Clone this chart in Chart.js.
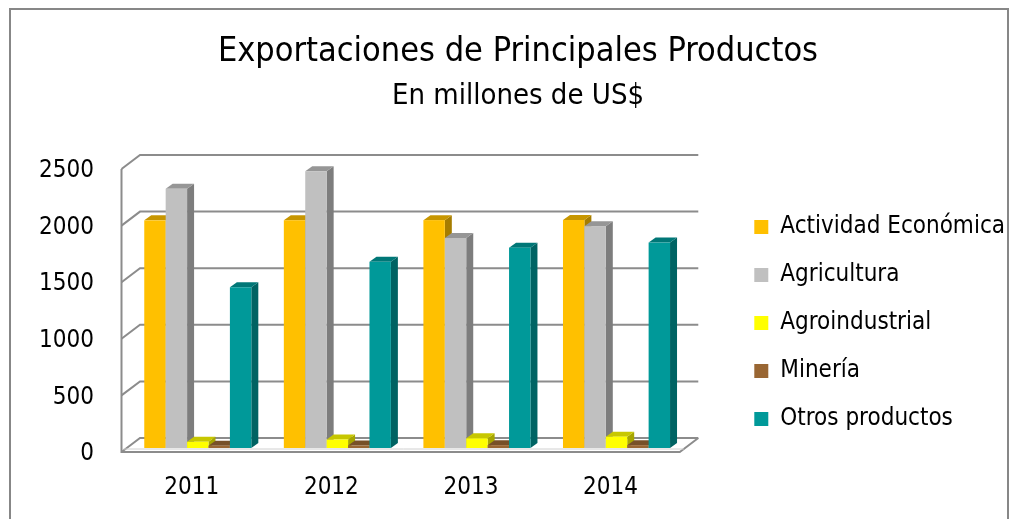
<!DOCTYPE html>
<html>
<head>
<meta charset="utf-8">
<script src="https://cdn.jsdelivr.net/npm/chart.js@4/dist/chart.umd.min.js"></script>
<style>
  html, body { margin: 0; padding: 0; background: #fff; }
  #wrap { width: 1015px; height: 519px; }
</style>
</head>
<body>
<div id="wrap"><canvas id="grafico"></canvas></div>
<script>
const categorias = ['2011', '2012', '2013', '2014'];
const actividadEconomica = [2011, 2012, 2013, 2014];
const agricultura = [2290, 2445, 1855, 1960];
const agroindustrial = [55, 75, 86, 100];
const mineria = [20, 22, 25, 25];
const otrosProductos = [1420, 1645, 1770, 1815];
const ticksY = [0, 500, 1000, 1500, 2000, 2500];

const fuente = "'DejaVu Sans Condensed', 'DejaVu Sans', sans-serif";

// desplazamientos de la perspectiva 3D (plano de barras -> pared trasera / borde frontal)
const fondo = { dx: 12, dy: -10 };
const frente = { dx: -6.5, dy: 4 };
const prof = { dx: 7, dy: -5 };

function oscurecer(hex, f) {
    const n = parseInt(hex.slice(1), 16);
    const r = Math.round(((n >> 16) & 255) * f);
    const g = Math.round(((n >> 8) & 255) * f);
    const b = Math.round((n & 255) * f);
    return `rgb(${r},${g},${b})`;
}

const marco = {
    id: 'marco',
    beforeDraw(chart) {
        const ctx = chart.ctx;
        ctx.save();
        ctx.strokeStyle = '#878787';
        ctx.lineWidth = 2;
        ctx.strokeRect(10, 9, 998, 540);
        ctx.restore();
    }
};

// la leyenda necesita más ancho que el límite que pone Chart.js a las cajas laterales
const leyendaAncha = {
    id: 'leyendaAncha',
    beforeLayout(chart) {
        const lg = chart.legend;
        if (lg && !lg._ancha) {
            const upd = lg.update.bind(lg);
            lg.update = (mw, mh, m) => upd(Math.max(mw, 400), mh, m);
            lg._ancha = true;
        }
    }
};

const barras3d = {
    id: 'barras3d',
    beforeDatasetsDraw(chart) {
        const ctx = chart.ctx;
        const a = chart.chartArea;
        const y = chart.scales.y;
        ctx.save();
        ctx.strokeStyle = '#8c8c8c';
        ctx.lineWidth = 2;

        // pared del fondo y pared izquierda
        ticksY.forEach(v => {
            const py = y.getPixelForValue(v);
            ctx.beginPath();
            ctx.moveTo(a.left + frente.dx, py + frente.dy);
            ctx.lineTo(a.left + fondo.dx, py + fondo.dy);
            ctx.lineTo(a.right + fondo.dx, py + fondo.dy);
            ctx.stroke();
        });
        const y0 = y.getPixelForValue(0);
        const yMax = y.getPixelForValue(2500);
        ctx.beginPath();
        ctx.moveTo(a.left + frente.dx, yMax + frente.dy);
        ctx.lineTo(a.left + frente.dx, y0 + frente.dy);
        ctx.lineTo(a.right + frente.dx, y0 + frente.dy);
        ctx.lineTo(a.right + fondo.dx, y0 + fondo.dy);
        ctx.stroke();
        ctx.strokeStyle = '#d0d0d0';
        ctx.lineWidth = 1;
        ctx.beginPath();
        ctx.moveTo(a.left + frente.dx + 2, y0 + 1);
        ctx.lineTo(a.right + frente.dx + 4, y0 + 1);
        ctx.stroke();

        // barras con cara superior y lateral
        chart.data.datasets.forEach((ds, i) => {
            const meta = chart.getDatasetMeta(i);
            meta.data.forEach(bar => {
                const { x, y: top, base, width } = bar.getProps(['x', 'y', 'base', 'width'], true);
                const l = x - width / 2, r = x + width / 2;
                ctx.fillStyle = oscurecer(ds.backgroundColor, 0.65);
                ctx.beginPath();
                ctx.moveTo(r, top);
                ctx.lineTo(r + prof.dx, top + prof.dy);
                ctx.lineTo(r + prof.dx, base + prof.dy);
                ctx.lineTo(r, base);
                ctx.closePath();
                ctx.fill();
                ctx.fillStyle = oscurecer(ds.backgroundColor, 0.78);
                ctx.beginPath();
                ctx.moveTo(l, top);
                ctx.lineTo(l + prof.dx, top + prof.dy);
                ctx.lineTo(r + prof.dx, top + prof.dy);
                ctx.lineTo(r, top);
                ctx.closePath();
                ctx.fill();
                ctx.fillStyle = ds.backgroundColor;
                ctx.fillRect(l, top, width, base - top);
            });
        });
        ctx.restore();
        return false;
    }
};

new Chart(document.getElementById('grafico'), {
    type: 'bar',
    data: {
        labels: categorias,
        datasets: [
            { label: 'Actividad Económica', data: actividadEconomica, backgroundColor: '#FFC000' },
            { label: 'Agricultura', data: agricultura, backgroundColor: '#C0C0C0' },
            { label: 'Agroindustrial', data: agroindustrial, backgroundColor: '#FFFF00' },
            { label: 'Minería', data: mineria, backgroundColor: '#996633' },
            { label: 'Otros productos', data: otrosProductos, backgroundColor: '#009999' }
        ]
    },
    options: {
        responsive: true,
        maintainAspectRatio: false,
        animation: false,
        categoryPercentage: 0.767,
        barPercentage: 1,
        layout: { padding: { left: 21, right: 0, top: 0, bottom: 0 } },
        plugins: {
            title: {
                display: true,
                text: 'Exportaciones de Principales Productos',
                color: '#000',
                font: { family: fuente, size: 34, weight: 'normal' },
                padding: { top: 32, bottom: 0 }
            },
            subtitle: {
                display: true,
                text: 'En millones de US$',
                color: '#000',
                font: { family: fuente, size: 29, weight: 'normal' },
                padding: { top: 5.8, bottom: 51.6 }
            },
            legend: {
                position: 'right',
                align: 'start',
                title: { display: true, text: ' ', font: { size: 10 }, padding: { top: 179, bottom: 0 } },
                labels: {
                    color: '#000',
                    boxWidth: 14,
                    boxHeight: 14,
                    padding: 24,
                    font: { family: fuente, size: 24 }
                }
            },
            tooltip: { enabled: false }
        },
        scales: {
            x: {
                grid: { display: false, drawTicks: false },
                border: { display: false },
                ticks: { color: '#000', padding: 25.6, labelOffset: -6, font: { family: fuente, size: 24 } },
                afterFit(s) { s.height = 71; }
            },
            y: {
                min: 0,
                max: 2500,
                grid: { display: false, drawTicks: false },
                border: { display: false },
                ticks: {
                    color: '#000',
                    stepSize: 500,
                    padding: 34,
                    labelOffset: 6,
                    font: { family: fuente, size: 24 },
                    callback: v => String(v)
                },
                afterFit(s) { s.width = 107; }
            },
            hueco: {
                type: 'linear',
                position: 'right',
                display: true,
                grid: { display: false, drawTicks: false },
                border: { display: false },
                ticks: { display: false },
                afterFit(s) { s.width = 44; }
            }
        }
    },
    plugins: [marco, leyendaAncha, barras3d]
});
</script>
</body>
</html>
